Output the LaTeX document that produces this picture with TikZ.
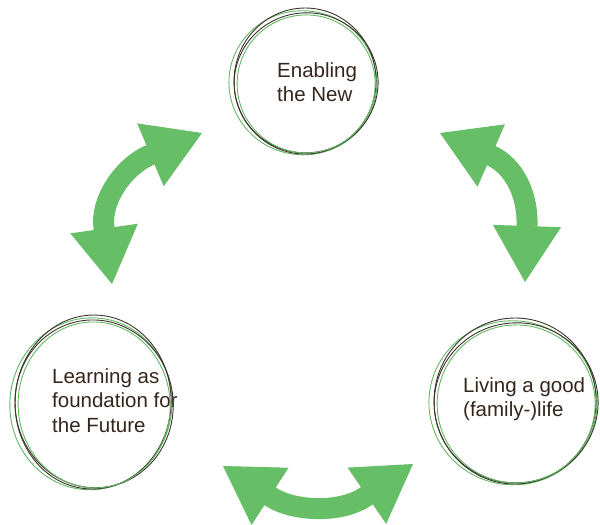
\documentclass[tikz,border=0pt]{standalone}
\usepackage{fontspec}
\setmainfont{Liberation Sans}
\usepackage{xcolor}
\usetikzlibrary{arrows.meta,positioning}
\definecolor{leaf}{RGB}{102,191,102}
\definecolor{ringgreen}{RGB}{98,184,98}
\definecolor{ringdark}{RGB}{62,52,47}
\definecolor{inktext}{RGB}{52,38,28}
\tikzstyle{blurb} = [anchor=north west, inner sep=0pt, align=left, text=inktext, font=\fontsize{20.5}{24.5}\selectfont]
\tikzstyle{swoosh} = [draw=leaf, line width=21pt, {Triangle[length=56pt,width=68pt,line width=1pt]}-{Triangle[length=56pt,width=68pt,line width=1pt]}]
\tikzstyle{inkring} = [draw=ringdark, line width=0.9pt]
\tikzstyle{greenring} = [draw=ringgreen, line width=0.9pt]

% loose double ring drawn by hand: centre, x radius, y radius
\newcommand{\handring}[3]{%
  \begin{scope}[shift={(#1)}]
    \draw[greenring, rotate=-6] (-2,1) ellipse ({#2+2} and {#3});
    \draw[inkring, rotate=8] (1,1) ellipse ({#2} and {#3-2});
    \draw[inkring, rotate=-3] (0,-1) ellipse ({#2-1} and {#3+1});
    \draw[greenring, rotate=4] (1,2) ellipse ({#2-3} and {#3-3});
  \end{scope}}

\begin{document}
\begin{tikzpicture}[x=1pt, y=-1pt]
    \useasboundingbox (0,0) rectangle (600,525);

    % the three topics
    \node[blurb] (enable) at (277,62) {Enabling\\the New};
    \node[blurb] (learn) at (52,368) {Learning as\\foundation for\\the Future};
    \node[blurb] (live) at (463,377) {Living a good\\(family-)life};

    \coordinate (enable-ring) at (305,82);
    \coordinate (learn-ring) at (93,403);
    \coordinate (live-ring) at (515,402);
    \handring{enable-ring}{72}{72}
    \handring{learn-ring}{79}{86}
    \handring{live-ring}{82}{82}

    % arrow tips (a, b) and where the shafts meet the heads (a0, b0)
    \coordinate (tl-a) at (112,284);
    \coordinate (tl-a0) at (104,228);
    \coordinate (tl-b0) at (150,155);
    \coordinate (tl-b) at (202,133);
    \coordinate (tr-a) at (440,133);
    \coordinate (tr-a0) at (490,155);
    \coordinate (tr-b0) at (527,225);
    \coordinate (tr-b) at (525,282);
    \coordinate (bt-a) at (223,466);
    \coordinate (bt-a0) at (271,497);
    \coordinate (bt-b0) at (365,497);
    \coordinate (bt-b) at (413,464);

    \draw[swoosh] (tl-a) -- (tl-a0) .. controls (100,200) and (124,166) .. (tl-b0) -- (tl-b);
    \draw[swoosh] (tr-a) -- (tr-a0) .. controls (515,166) and (528,196) .. (tr-b0) -- (tr-b);
    \draw[swoosh] (bt-a) -- (bt-a0) .. controls (295,512) and (341,513) .. (bt-b0) -- (bt-b);
\end{tikzpicture}
\end{document}
